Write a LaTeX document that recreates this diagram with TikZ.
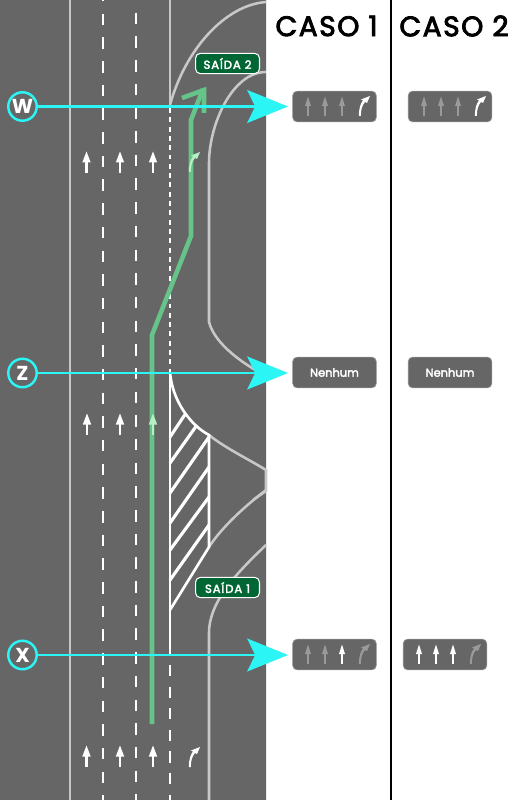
\documentclass[tikz,border=0pt]{standalone}
\usepackage{fontspec}
\usetikzlibrary{arrows.meta}
\newfontfamily\popfont[LetterSpace=5.5,FakeBold=3]{Poppins}
\newfontfamily\popsign[LetterSpace=8,FakeBold=3]{Poppins}
\newfontfamily\popplain[FakeBold=3]{Poppins}
\newfontfamily\popmark{Poppins}
\definecolor{roadgray}{HTML}{666666}
\definecolor{edgegray}{HTML}{C8C8C8}
\definecolor{dimgray}{HTML}{9A9A9A}
\definecolor{pathgreen}{HTML}{66C38A}
\definecolor{palegreen}{HTML}{B5F0C4}
\definecolor{zonecyan}{HTML}{2CF5F5}
\definecolor{signgreen}{HTML}{006633}
\tikzset{
  x=0.02cm,y=-0.02cm,
  edgeline/.style={draw=edgegray,line width=1.45pt},
  whiteline/.style={draw=white,line width=1.5pt},
  lanedash/.style={draw=white,line width=1.3pt,dash pattern=on 6.52pt off 6.96pt},
  edgedash/.style={draw=white,line width=1.3pt,dash pattern=on 6.3pt off 6.0pt},
  dotline/.style={draw=white,line width=1.3pt,dash pattern=on 2.8pt off 2.5pt},
  hatchline/.style={draw=white,line width=1.8pt},
  greenpath/.style={draw=pathgreen,line width=2.6pt,miter limit=10},
  zoneline/.style={draw=zonecyan,line width=1.4pt,-{Stealth[length=23.2pt,width=18.7pt,inset=4.5pt]}},
  zonecircle/.style={circle,draw=zonecyan,line width=1.4pt,fill=roadgray,minimum size=16.2pt,inner sep=0pt,text=white,font=\popmark\bfseries\fontsize{11.5}{12}\selectfont},
  panelbox/.style={draw=dimgray,line width=0.35pt,fill=roadgray,rounded corners=2.5pt,minimum height=17.5pt,minimum width=47.6pt,inner sep=0pt,text=white,font=\popplain\fontsize{6.5}{7}\selectfont},
  signbox/.style={draw=white,line width=0.6pt,fill=signgreen,rounded corners=2.8pt,minimum width=36.4pt,minimum height=11.6pt,inner sep=0pt,text=white,font=\popsign\fontsize{6.6}{7}\selectfont},
  casehead/.style={inner sep=0pt,text=black,font=\popfont\fontsize{16}{17}\selectfont},
  upmark/.pic={
    \draw[pic actions,fill=none,line width=1.15pt] (0,0)--(0,-13);
    \fill[pic actions,draw=none] (0,-21.5)--(-4.2,-10.5)--(4.2,-10.5)--cycle;
  },
  smallmark/.pic={
    \draw[pic actions,fill=none,line width=0.95pt] (0,0)--(0,-12);
    \fill[pic actions,draw=none] (0,-19.5)--(-3,-10)--(3,-10)--cycle;
  },
  turnmark/.pic={
    \fill[pic actions,draw=none] (-1.2,0) .. controls (-1,-8) and (0.5,-12.5) .. (3,-15.5)
      -- (1,-16.5) -- (10,-20) -- (7,-13) -- (5,-14) .. controls (2.5,-11) and (0.8,-7) .. (0.8,0) -- cycle;
  }
}
\begin{document}
\begin{tikzpicture}
\useasboundingbox (0,0) rectangle (515,800);
\fill[white] (0,0) rectangle (515,800);
\fill[roadgray] (0,0) rectangle (266,800);
\draw[draw=white!92!black,line width=0.6pt] (266.5,0)--(266.5,800);

% hatched zone
\foreach \ax/\ay/\bx/\by in {170/437/186/413,170/463/197/425,170/493/209/437,170/523/209/467,170/550/209/497,170/580/209/525}
  \draw[hatchline] (\ax,\ay)--(\bx,\by);

% edge lines
\draw[edgeline] (70,0)--(70,800);
\draw[edgeline] (170,0)--(170,105);
\draw[edgeline] (170,105) .. controls (185,50) and (225,5) .. (266,2);
\draw[edgeline] (209,163) .. controls (209,125) and (232,72) .. (266,72);
\draw[edgeline] (209,163)--(209,322) .. controls (215,345) and (245,365) .. (266,376);
\draw[edgeline] (209,435) .. controls (225,448) and (250,460) .. (266,470)--(266,491)--(253,500);
\draw[edgeline] (209,547) .. controls (220,530) and (240,510) .. (266,490);
\draw[edgeline] (266,545) .. controls (240,570) and (209,600) .. (209,633)--(209,800);

% lane markings
\draw[lanedash] (103,-10)--(103,800);
\draw[lanedash] (136,-11)--(136,800);
\draw[dotline] (170,108)--(170,372);
\draw[whiteline] (170,372)--(170,655);
\draw[whiteline] (170,372) .. controls (172,400) and (190,425) .. (209,435)--(209,547)--(170,610);
\draw[edgedash] (170,665)--(170,800);

% green route
\draw[greenpath] (152,724)--(152,335)--(191,236)--(191,120)--(203,89);
\draw[greenpath] (182,98)--(204,90)--(204,113);

% road arrows
\foreach \px/\py in {86.5/173,120/173,153/173,87/435,120/435,86.5/767,120/767,153/767}
  \pic[white] at (\px,\py) {upmark};
\pic[palegreen] at (153,435) {upmark};
\pic[palegreen] at (190,172) {turnmark};
\pic[white] at (190,767) {turnmark};

% signs
\node[signbox] (saida2) at (227.5,63.5) {SAÍDA 2};
\node[signbox] (saida1) at (227.5,587.5) {SAÍDA 1};

% zone markers
\node[zonecircle] (w) at (22.5,106.5) {W};
\node[zonecircle] (z) at (22.5,373) {Z};
\node[zonecircle] (xm) at (22.5,655) {X};
\coordinate (wend) at (288,106.5);
\coordinate (zend) at (288,373);
\coordinate (xend) at (288,655);
\draw[zoneline] (w)--(wend);
\draw[zoneline] (z)--(zend);
\draw[zoneline] (xm)--(xend);

% headings and divider
\coordinate (divtop) at (391,0);
\coordinate (divbot) at (391,800);
\draw[black,line width=1.4pt] (divtop)--(divbot);
\node[casehead] (caso1) at (326.5,26) {CASO 1};
\node[casehead] (caso2) at (454,26) {CASO 2};

% panels
\node[panelbox] (pw1) at (334.5,106.5) {};
\node[panelbox] (pw2) at (450,106.5) {};
\node[panelbox] (pz1) at (334.5,372.5) {Nenhum};
\node[panelbox] (pz2) at (450,372.5) {Nenhum};
\node[panelbox] (px1) at (334.5,654.5) {};
\node[panelbox] (px2) at (445,654.5) {};

\foreach \px in {308,325,342,424,441,458}
  \pic[dimgray] at (\px,116) {smallmark};
\pic[white] at (360,116) {turnmark};
\pic[white] at (476,116) {turnmark};

\pic[dimgray] at (308,664) {smallmark};
\pic[dimgray] at (325,664) {smallmark};
\pic[white] at (342,664) {smallmark};
\pic[dimgray] at (360,664) {turnmark};
\foreach \px in {419,436,453}
  \pic[white] at (\px,664) {smallmark};
\pic[dimgray] at (471,664) {turnmark};
\end{tikzpicture}
\end{document}
